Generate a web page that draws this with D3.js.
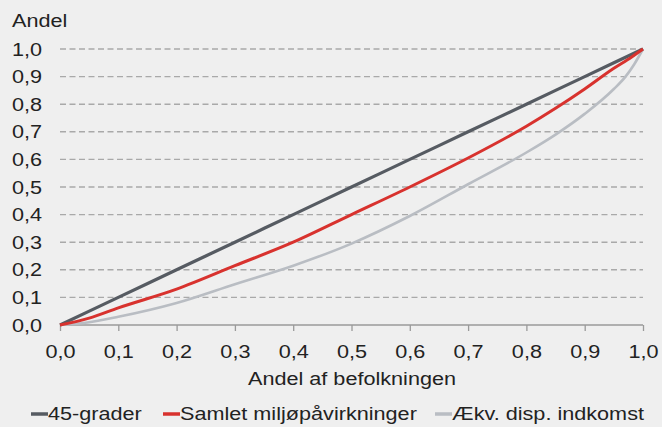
<!DOCTYPE html>
<html><head><meta charset="utf-8">
<script src="https://cdn.jsdelivr.net/npm/d3@7"></script>
<style>html,body{margin:0;padding:0;background:#efefef;}svg{display:block;font-family:"Liberation Sans",Arial,sans-serif;}</style>
</head><body>
<svg id="c" width="662" height="427"></svg>
<script>
const xTicks = [0,0.1,0.2,0.3,0.4,0.5,0.6,0.7,0.8,0.9,1.0];
const yTicks = [0,0.1,0.2,0.3,0.4,0.5,0.6,0.7,0.8,0.9,1.0];
const seriesNames = ["45-grader","Samlet miljøpåvirkninger","Ækv. disp. indkomst"];
const diagX = [0,0.1,0.2,0.3,0.4,0.5,0.6,0.7,0.8,0.9,1.0];
const diagY = [0,0.1,0.2,0.3,0.4,0.5,0.6,0.7,0.8,0.9,1.0];
const redX = [0,0.05,0.1,0.2,0.3,0.4,0.5,0.6,0.7,0.8,0.85,0.9,0.95,0.98,1.0];
const redY = [0,0.025,0.062,0.13,0.215,0.30,0.40,0.50,0.605,0.72,0.785,0.855,0.93,0.97,1.0];
const grayX = [0,0.05,0.1,0.2,0.3,0.4,0.5,0.6,0.7,0.8,0.85,0.9,0.95,0.97,0.985,1.0];
const grayY = [0,0.01,0.03,0.08,0.148,0.215,0.295,0.395,0.51,0.625,0.69,0.765,0.855,0.9,0.945,1.0];
const colors = ["#565b62","#d8322e","#b9bdc3"];
const widths = [3.2,3,2.6];

const FS = 18.5, SX = 1.17;
const svg = d3.select("#c");
const x = d3.scaleLinear().domain([0,1]).range([60,643]);
const y = d3.scaleLinear().domain([0,1]).range([325,49]);
const fmt = d => d3.format(".1f")(d).replace(".", ",");

function txt(g, tx, ty, s, anchor){
  return g.append("text").attr("transform",`translate(${tx},${ty}) scale(${SX},1)`)
    .attr("text-anchor",anchor||"start").attr("font-size",FS).attr("fill","#222").text(s);
}

// gridlines
svg.append("g").selectAll("line").data(yTicks.filter(d=>d>0)).join("line")
  .attr("x1", x(0)).attr("x2", x(1)).attr("y1", d=>y(d)).attr("y2", d=>y(d))
  .attr("stroke","#a9a9a9").attr("stroke-width",1.4).attr("stroke-dasharray","6,3.5");

// y labels
const gy = svg.append("g");
yTicks.forEach(d=>txt(gy, 42, y(d)+6.5, fmt(d), "end"));
txt(svg, 12, 27, "Andel");

// x axis
const xAxis = d3.axisBottom(x).tickValues(xTicks).tickSize(6).tickFormat(fmt);
const gx = svg.append("g").attr("transform",`translate(0,${y(0)})`).call(xAxis);
gx.select(".domain").attr("stroke","#9a9a9a").attr("stroke-width",1.3).attr("d",`M${x(0)},0H${x(1)}`);
gx.selectAll(".tick line").attr("stroke","#9a9a9a").attr("stroke-width",1.3);
gx.selectAll(".tick text").attr("font-size",FS).attr("fill","#222").attr("dy",0).attr("y",0)
  .attr("transform",`translate(0,33) scale(${SX},1)`)
  .attr("font-family","Liberation Sans, Arial, sans-serif");

txt(svg, 352, 385, "Andel af befolkningen", "middle");

// lines
const line = d3.line().x(d=>x(d[0])).y(d=>y(d[1])).curve(d3.curveMonotoneX);
const data = [d3.zip(diagX,diagY), d3.zip(redX,redY), d3.zip(grayX,grayY)];
[2,0,1].forEach(i=>{
  svg.append("path").datum(data[i]).attr("d",line).attr("fill","none")
    .attr("stroke",colors[i]).attr("stroke-width",widths[i]).attr("stroke-linejoin","round");
});

// legend
const legX = [31,163,435];
const lg = svg.append("g");
seriesNames.forEach((n,i)=>{
  lg.append("line").attr("x1",legX[i]).attr("x2",legX[i]+17).attr("y1",414).attr("y2",414)
    .attr("stroke",colors[i]).attr("stroke-width",3.5);
  txt(lg, legX[i]+17, 420, n);
});
</script>
</body></html>
